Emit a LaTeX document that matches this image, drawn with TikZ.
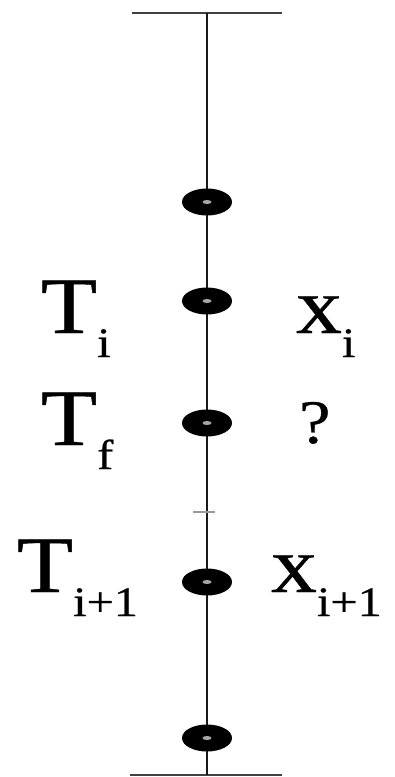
\documentclass[tikz,border=0pt]{standalone}
\usepackage{fontspec}
\setmainfont{Liberation Serif}
\newfontfamily\lblfont[FakeBold=0.5]{Liberation Serif}
\usetikzlibrary{shapes.geometric}
\newcommand{\lblsub}[2]{\scalebox{1.15}[1]{\lblfont\fontsize{80}{80}\selectfont #1\raisebox{-24pt}{\fontsize{42}{42}\selectfont #2}}}
\tikzset{
  axisline/.style={line width=2.6pt, black!90},
  capline/.style={line width=2.8pt, black!75},
  dotmark/.style={ellipse, fill=black, minimum width=50pt, minimum height=27pt, inner sep=0pt},
  hole/.style={ellipse, fill=white!65!black, minimum width=9pt, minimum height=4pt, inner sep=0pt},
  lbl/.style={anchor=base west, inner sep=0pt, outer sep=0pt},
  tickmark/.style={line width=1.4pt, black!40}
}
\begin{document}
\begin{tikzpicture}[x=1pt, y=-1pt]
\useasboundingbox (0,0) rectangle (395,777);
\coordinate (top) at (207,13);
\coordinate (bot) at (207,775);
\coordinate (tl) at (132,13);
\coordinate (tr) at (282,13);
\coordinate (bl) at (130,775);
\coordinate (br) at (282,775);
\coordinate (tka) at (193,512);
\coordinate (tkb) at (215,512);
\draw[capline] (tl) -- (tr);
\draw[capline] (bl) -- (br);
\draw[axisline] (top) -- (bot);
\draw[tickmark] (tka) -- (tkb);
\foreach \n/\y in {d1/202, d2/301, d3/423, d4/582, d5/738}{
  \node[dotmark] (\n) at (207,\y) {};
  \node[hole] (\n h) at (207,\y) {};
}
\node[lbl] (Ti) at (41,333) {\lblsub{T}{i}};
\node[lbl] (Tf) at (41,445) {\lblsub{T}{f}};
\node[lbl] (Ti1) at (17,592) {\lblsub{T}{i+1}};
\node[lbl] (xi) at (296,333) {\lblsub{x}{i}};
\node[lbl] (q) at (299,443) {\scalebox{1.15}[1]{\lblfont\fontsize{62}{62}\selectfont ?}};
\node[lbl] (xi1) at (271,592) {\lblsub{x}{i+1}};
\end{tikzpicture}
\end{document}
